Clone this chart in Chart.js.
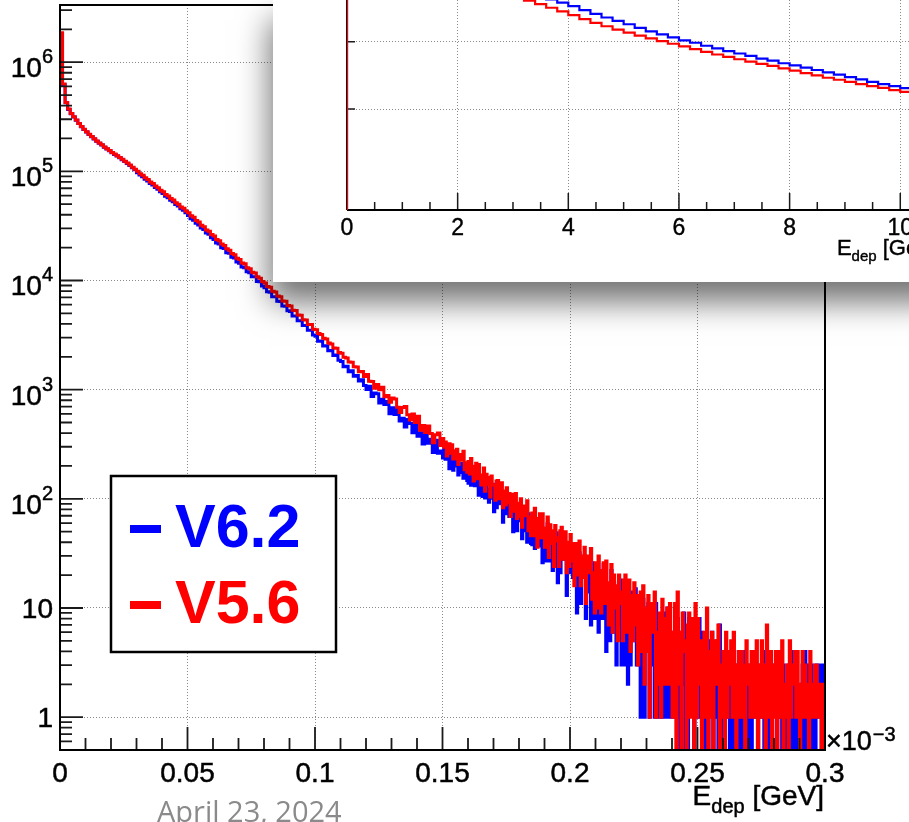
<!DOCTYPE html>
<html><head><meta charset="utf-8">
<script src="https://cdn.jsdelivr.net/npm/chart.js@4.4.1/dist/chart.umd.min.js"></script>
<style>
html,body{margin:0;padding:0;background:#fff;width:909px;height:822px;overflow:hidden;position:relative;}
#main{position:absolute;left:0;top:0;}
#insetBox{position:absolute;left:273px;top:0;width:700px;height:282px;background:#fff;box-shadow:-3px 20px 30px rgba(0,0,0,0.55);}
#inset{position:absolute;left:0;top:0;}
#date{position:absolute;left:157px;top:796px;font-family:'Open Sans',sans-serif;font-size:29px;line-height:29px;color:#8a8a8a;white-space:nowrap;}
</style></head>
<body>
<canvas id="main" width="909" height="822"></canvas>
<div id="insetBox"><canvas id="inset" width="700" height="282"></canvas></div>
<div id="date">April 23, 2024</div>
<script>
// ---------------- data ----------------
const seriesNames = ['V6.2', 'V5.6'];
// main histogram: bins of 0.001 GeV from 0 to 0.15, then bins of 0.0005 GeV from 0.15 to 0.3
const MAIN_BIN_WIDTH = 0.001;
const TAIL_START = 0.15;
const TAIL_BIN_WIDTH = 0.0005;
const v62Main = [
1830000,625000,424000,369000,337000,314000,293000,274000,256000,242000,
229000,218000,207000,198000,189000,181000,174000,166000,160000,154000,
148000,143000,138000,133000,128000,123000,118000,113000,108000,103500,
97300,92400,89200,84700,81700,77500,74900,71000,68700,65100,
62600,59200,57400,54300,52600,49800,48200,45500,44100,41800,
39300,36800,35600,33400,32300,30200,29300,27200,26500,24700,
23800,22000,21600,20000,19600,18000,17800,16300,16100,14800,
14400,13300,13100,12000,11800,10800,10800,9800,9750,8900,
8600,7900,7800,7100,7080,6450,6420,5830,5820,5280,
5200,4720,4720,4270,4270,3880,3870,3500,3510,3170,
3080,2780,2790,2510,2530,2270,2290,2050,2080,1860,
1810,1620,1640,1460,1490,1330,1350,1200,1230,1090,
1003,1072,867,934,919,753,815,730,779,601,
684,592,661,517,546,456,532,490,402,478,
375,402,317,396,323,352,266,344,262,274
];
const v62Tail = [
237,295,230,264,248,189,224,250,183,236,
200,236,165,199,174,211,154,207,180,147,
139,176,133,177,146,132,185,159,108,146,
136,105,162,102,140,122,93,121,101,136,
76,103,83,120,90,109,103,61,107,76,
73,106,69,92,84,50,70,89,51,81,
63,84,43,65,51,72,40,73,58,39,
38,59,35,62,45,37,67,55,26,48,
44,27,59,27,49,39,22,41,29,49,
17,33,21,45,28,38,35,13,39,21,
21,39,19,33,28,9,20,32,11,27,
19,30,8,21,14,25,7,26,18,8,
8,19,6,22,13,8,25,19,4,15,
14,5,22,6,17,12,3,13,7,18,
3,9,3,16,7,2,11,3,14,5,
5,15,3,12,9,1,5,12,1,10,
5,11,1,7,3,9,1,11,6,1,
1,7,1,9,4,1,10,8,1,5,
6,1,10,1,8,5,0,6,2,9,
0,4,0,8,2,6,5,0,7,1,
1,8,1,6,4,0,2,6,0,5,
2,6,0,4,1,5,0,7,3,0,
0,3,1,4,2,0,3,4,0,3,
3,0,4,0,3,2,0,4,1,3,
0,2,0,4,1,3,2,0,3,1,
1,3,0,4,2,0,1,4,0,3,
2,3,0,3,1,4,0,3,2,0,
0,3,0,4,1,0,3,2,0,2,
2,0,3,0,4,2,0,3,1,3,
0,2,0,3,1,3,2,0,3,0
];
const v56Main = [
1860000,631000,427000,372000,339000,316000,295000,275000,257000,243000,
230000,219000,208000,199000,190000,182000,175000,167000,161000,155000,
149000,144000,139000,134000,129000,124000,119000,114000,109000,104500,
100400,95200,91900,87300,84300,80000,77200,73200,70900,67100,
64900,61500,59500,56300,54500,51600,49900,47200,45800,43300,
41800,39200,37900,35500,34300,32100,31000,29000,28200,26400,
25500,23800,23100,21600,20900,19500,18900,17700,17200,16000,
15600,14500,14200,13100,12800,11900,11700,10800,10500,9780,
9500,8820,8650,7950,7850,7200,7100,6500,6450,5900,
5850,5330,5300,4820,4800,4360,4350,3950,3950,3570,
3540,3270,3200,2950,2910,2680,2620,2410,2400,2190,
2160,1980,1950,1790,1780,1620,1610,1460,1470,1320,
1380,1195,1190,1028,1113,997,1052,861,883,766,
837,822,690,618,687,702,590,527,599,501,
572,425,470,404,465,397,326,387,400,308
];
const v56Tail = [
356,296,331,247,293,320,261,313,232,276,
231,285,206,246,255,226,273,185,214,175,
220,169,234,177,146,199,212,153,206,158,
134,165,192,117,168,135,157,104,162,133,
134,97,146,147,100,113,140,83,118,88,
126,92,112,69,95,110,77,112,66,91,
69,100,55,81,86,70,96,51,68,46,
74,46,82,53,36,66,73,44,73,46,
36,54,68,29,58,39,51,24,57,41,
44,24,51,55,28,35,50,21,40,24,
47,27,39,16,31,39,20,41,16,30,
19,36,11,27,30,21,35,12,21,9,
26,10,30,15,9,22,26,11,27,12,
7,17,25,6,20,10,16,5,20,11,
14,5,18,20,6,10,18,4,13,5,
17,7,13,3,9,14,4,16,2,10,
4,13,1,9,11,6,14,1,6,2,
9,1,12,4,2,8,10,2,11,3,
1,6,11,0,14,2,6,0,9,4,
5,0,7,9,1,3,8,0,11,1,
8,2,5,0,3,6,1,10,0,4,
1,6,0,4,5,2,7,0,3,1,
4,0,6,1,2,4,5,1,6,1,
0,3,4,1,4,1,3,0,5,2,
3,1,4,4,1,2,5,0,3,1,
5,1,3,0,7,4,1,4,0,3,
1,4,0,3,4,1,5,0,2,1,
3,0,5,1,2,3,4,1,4,1,
0,2,4,1,3,1,2,0,4,1,
2,1,3,3,1,1,2,0,2,2
];
const INSET_BIN_WIDTH = 0.2; // inset bins start at 0
const v62Inset = [
9.5,8.2,7.3,6.6,6.1,5.7,5.35,5.05,4.8,4.58,
4.4,4.24,4.1,3.98,3.87,3.78,3.72,3.67,3.63,3.58,
3.53,3.47,3.415,3.36,3.31,3.26,3.205,3.155,3.11,3.065,
3.02,2.985,2.94,2.9,2.86,2.825,2.79,2.75,2.72,2.68,
2.65,2.615,2.58,2.545,2.51,2.475,2.44,2.405,2.37,2.34,
2.31,2.275,2.245,2.21
];
const v56Inset = [
9.0,7.8,6.9,6.2,5.7,5.3,4.95,4.68,4.45,4.25,
4.08,3.94,3.83,3.75,3.69,3.65,3.61,3.56,3.505,3.45,
3.395,3.335,3.28,3.23,3.18,3.135,3.09,3.05,3.01,2.97,
2.93,2.89,2.85,2.81,2.775,2.74,2.705,2.67,2.64,2.605,
2.57,2.535,2.5,2.465,2.435,2.405,2.37,2.34,2.315,2.28,
2.255,2.22,2.19,2.165
];
const xTickValues = [0, 0.05, 0.1, 0.15, 0.2, 0.25, 0.3];
const xTickLabels = ['0', '0.05', '0.1', '0.15', '0.2', '0.25', '0.3'];
const xGridValues = [0.05, 0.1, 0.15, 0.2, 0.25];
const yTickValues = [1, 10, 100, 1e3, 1e4, 1e5, 1e6];
const yTickBases = ['1', '10', '10', '10', '10', '10', '10'];
const yTickExps = ['', '', '2', '3', '4', '5', '6'];
const insetXTickValues = [0, 2, 4, 6, 8, 10];
const insetXTickLabels = ['0', '2', '4', '6', '8', '10'];
const insetYGridValues = [2, 3];
const axisTitleMain = ['E', 'dep', ' [GeV]'];
const axisExponent = ['\u00d710', '\u22123'];

// ---------------- helpers ----------------
const FONT = "'Liberation Sans', Arial, Helvetica, sans-serif";
// empty bins are drawn down to below the log axis floor (log scale cannot show 0)
const EMPTY_BIN_PLOT_VALUE = 0.05;
function histPoints(mainVals, tailVals) {
  const pts = [];
  const fix = v => (v > 0 ? v : EMPTY_BIN_PLOT_VALUE);
  mainVals.forEach((v, i) => pts.push({x: i * MAIN_BIN_WIDTH, y: fix(v)}));
  tailVals.forEach((v, j) => pts.push({x: TAIL_START + j * TAIL_BIN_WIDTH, y: fix(v)}));
  pts.push({x: TAIL_START + tailVals.length * TAIL_BIN_WIDTH, y: fix(tailVals[tailVals.length - 1])});
  return pts;
}
function insetPoints(values) {
  const pts = [{x: 0, y: 0}];
  values.forEach((v, i) => pts.push({x: i * INSET_BIN_WIDTH, y: v}));
  pts.push({x: values.length * INSET_BIN_WIDTH, y: values[values.length - 1]});
  return pts;
}
function line(ctx, x1, y1, x2, y2) { ctx.moveTo(x1, y1); ctx.lineTo(x2, y2); }
// text with a hairline outline so it matches the heavier look of the original
function txt(ctx, s, x, y) { ctx.fillText(s, x, y); ctx.strokeText(s, x, y); }

// ---------------- main chart ----------------
const mainDecor = {
  id: 'mainDecor',
  afterDatasetsDraw(chart) {
    const {ctx, chartArea: a, scales: {x, y}} = chart;
    ctx.save();
    ctx.strokeStyle = '#1a1a1a';
    ctx.lineWidth = 1.8;
    ctx.beginPath();
    for (let k = 0; k <= 30; k++) {
      const px = x.getPixelForValue(k / 100);
      line(ctx, px, a.bottom, px, a.bottom - (k % 5 === 0 ? 23 : 12));
    }
    for (let e = -1; e <= 6; e++) {
      for (let m = 1; m <= 9; m++) {
        const v = m * Math.pow(10, e);
        if (v <= y.min || v >= y.max) continue;
        const py = y.getPixelForValue(v);
        line(ctx, a.left, py, a.left + (m === 1 ? 23 : 12), py);
      }
    }
    ctx.stroke();
    ctx.strokeStyle = '#000';
    ctx.lineWidth = 2;
    ctx.strokeRect(a.left, a.top, a.right - a.left, a.bottom - a.top);
    ctx.fillStyle = '#000';
    ctx.lineWidth = 0.5;
    ctx.font = '28px ' + FONT;
    ctx.textAlign = 'center';
    ctx.textBaseline = 'alphabetic';
    xTickValues.forEach((v, i) => txt(ctx, xTickLabels[i], x.getPixelForValue(v), a.bottom + 32));
    yTickValues.forEach((v, i) => {
      const py = y.getPixelForValue(v);
      const right = a.left - 7;
      if (!yTickExps[i]) {
        ctx.font = '28px ' + FONT; ctx.textAlign = 'right';
        txt(ctx, yTickBases[i], right, py + 10);
      } else {
        ctx.font = '20px ' + FONT; ctx.textAlign = 'right';
        const ew = ctx.measureText(yTickExps[i]).width;
        txt(ctx, yTickExps[i], right, py + 1);
        ctx.font = '28px ' + FONT;
        txt(ctx, yTickBases[i], right - ew, py + 15);
      }
    });
    ctx.textAlign = 'left';
    ctx.font = '28px ' + FONT; const w1 = ctx.measureText(axisTitleMain[0]).width; const w3 = ctx.measureText(axisTitleMain[2]).width;
    ctx.font = '20px ' + FONT; const w2 = ctx.measureText(axisTitleMain[1]).width;
    const tx = a.right - 1 - (w1 + w2 + w3);
    ctx.font = '28px ' + FONT; txt(ctx, axisTitleMain[0], tx, a.bottom + 55);
    ctx.font = '20px ' + FONT; txt(ctx, axisTitleMain[1], tx + w1, a.bottom + 63);
    ctx.font = '28px ' + FONT; txt(ctx, axisTitleMain[2], tx + w1 + w2, a.bottom + 55);
    ctx.font = '27px ' + FONT;
    txt(ctx, axisExponent[0], a.right + 1, a.bottom);
    const ww = ctx.measureText(axisExponent[0]).width;
    ctx.font = '20px ' + FONT;
    txt(ctx, axisExponent[1], a.right + 2 + ww, a.bottom - 9);
    // legend
    const lx = a.left + 51, ly = 476, lw = 225, lh = 176;
    ctx.fillStyle = '#fff';
    ctx.fillRect(lx, ly, lw, lh);
    ctx.strokeStyle = '#000'; ctx.lineWidth = 2.5;
    ctx.strokeRect(lx, ly, lw, lh);
    const cols = ['#0000ff', '#ff0000'];
    ctx.font = 'bold 61px ' + FONT;
    ctx.textAlign = 'left';
    seriesNames.forEach((n, i) => {
      const by = ly + 71 + i * 76;
      ctx.fillStyle = cols[i];
      ctx.fillRect(lx + 19, by - 22, 31, 8);
      ctx.fillText(n, lx + 64, by);
    });
    ctx.restore();
  }
};

new Chart(document.getElementById('main'), {
  type: 'line',
  data: {datasets: [
    {label: seriesNames[1], data: histPoints(v56Main, v56Tail), borderColor: '#ff0000', borderWidth: 3, stepped: 'before', pointRadius: 0, fill: false},
    {label: seriesNames[0], data: histPoints(v62Main, v62Tail), borderColor: '#0000ff', borderWidth: 3, stepped: 'before', pointRadius: 0, fill: false}
  ]},
  options: {
    responsive: false, animation: false, devicePixelRatio: 1,
    layout: {padding: {left: 60, top: 5, right: 84, bottom: 72}},
    plugins: {legend: {display: false}, tooltip: {enabled: false}},
    scales: {
      x: {type: 'linear', min: 0, max: 0.3, bounds: 'data',
          afterBuildTicks: s => { s.ticks = xGridValues.map(v => ({value: v})); },
          ticks: {display: false},
          grid: {color: '#8a8a8a', lineWidth: 1, drawTicks: false},
          border: {display: false, dash: [1, 2]}},
      y: {type: 'logarithmic', min: 0.5, max: 3.34e6, bounds: 'data',
          afterBuildTicks: s => { s.ticks = yTickValues.map(v => ({value: v})); },
          ticks: {display: false},
          grid: {color: '#8a8a8a', lineWidth: 1, drawTicks: false},
          border: {display: false, dash: [1, 2]}}
    }
  },
  plugins: [mainDecor]
});

// ---------------- inset chart ----------------
const insetDecor = {
  id: 'insetDecor',
  beforeDatasetsDraw(chart) {
    const {ctx, chartArea: a, scales: {x, y}} = chart;
    ctx.save();
    ctx.strokeStyle = '#1a1a1a'; ctx.lineWidth = 1.5;
    ctx.beginPath();
    for (let k = 0; k * 0.5 <= x.max; k++) {
      const px = x.getPixelForValue(k * 0.5);
      line(ctx, px, a.bottom, px, a.bottom - (k % 4 === 0 ? 17 : 8));
    }
    insetYGridValues.forEach(v => { const py = y.getPixelForValue(v); line(ctx, a.left, py, a.left + 8, py); });
    ctx.stroke();
    ctx.strokeStyle = '#000'; ctx.lineWidth = 2;
    ctx.beginPath();
    line(ctx, a.left, a.bottom, a.right, a.bottom);
    line(ctx, a.left, a.top, a.left, a.bottom);
    ctx.stroke();
    ctx.restore();
  },
  afterDraw(chart) {
    const {ctx, chartArea: a, scales: {x}} = chart;
    ctx.save();
    ctx.fillStyle = '#000';
    ctx.strokeStyle = '#000';
    ctx.lineWidth = 0.4;
    ctx.font = '23px ' + FONT; ctx.textAlign = 'center'; ctx.textBaseline = 'alphabetic';
    insetXTickValues.forEach((v, i) => txt(ctx, insetXTickLabels[i], x.getPixelForValue(v), a.bottom + 25));
    ctx.textAlign = 'left';
    ctx.font = '22px ' + FONT; const w1 = ctx.measureText(axisTitleMain[0]).width; const w3 = ctx.measureText(axisTitleMain[2]).width;
    ctx.font = '15px ' + FONT; const w2 = ctx.measureText(axisTitleMain[1]).width;
    const tx = a.right - (w1 + w2 + w3);
    ctx.font = '22px ' + FONT; txt(ctx, axisTitleMain[0], tx, a.bottom + 45);
    ctx.font = '15px ' + FONT; txt(ctx, axisTitleMain[1], tx + w1, a.bottom + 51);
    ctx.font = '22px ' + FONT; txt(ctx, axisTitleMain[2], tx + w1 + w2, a.bottom + 45);
    ctx.restore();
  }
};

new Chart(document.getElementById('inset'), {
  type: 'line',
  data: {datasets: [
    {label: seriesNames[1], data: insetPoints(v56Inset), borderColor: '#ff0000', borderWidth: 2.2, stepped: 'before', pointRadius: 0, fill: false},
    {label: seriesNames[0], data: insetPoints(v62Inset), borderColor: '#0000ff', borderWidth: 2.2, stepped: 'before', pointRadius: 0, fill: false}
  ]},
  options: {
    responsive: false, animation: false, devicePixelRatio: 1,
    layout: {padding: {left: 74, top: 0, right: 34, bottom: 72}},
    plugins: {legend: {display: false}, tooltip: {enabled: false}},
    scales: {
      x: {type: 'linear', min: 0, max: 10.7, bounds: 'data',
          afterBuildTicks: s => { s.ticks = insetXTickValues.filter(v => v > 0).map(v => ({value: v})); },
          ticks: {display: false},
          grid: {color: '#8a8a8a', lineWidth: 1, drawTicks: false},
          border: {display: false, dash: [1, 2]}},
      y: {type: 'linear', min: 0.5, max: 3.62, bounds: 'data',
          afterBuildTicks: s => { s.ticks = insetYGridValues.map(v => ({value: v})); },
          ticks: {display: false},
          grid: {color: '#8a8a8a', lineWidth: 1, drawTicks: false},
          border: {display: false, dash: [1, 2]}}
    }
  },
  plugins: [insetDecor]
});
</script>
</body></html>
